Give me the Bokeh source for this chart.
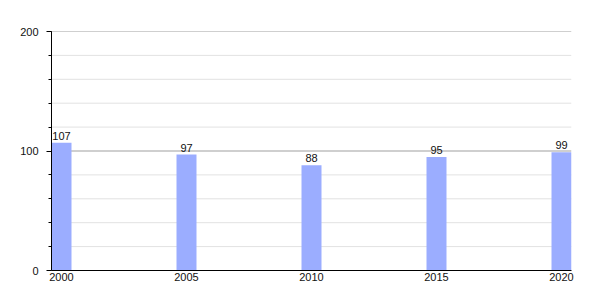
from bokeh.plotting import figure
from bokeh.models import FixedTicker, Range1d, ColumnDataSource, Span
from bokeh.embed import file_html
from bokeh.resources import INLINE
from bokeh.core.properties import value

years = [2000, 2005, 2010, 2015, 2020]
values = [107, 97, 88, 95, 99]
labels = [str(v) for v in values]
year_labels = [str(y) for y in years]
y_major = [0, 100, 200]
y_minor = [20, 40, 60, 80, 120, 140, 160, 180]

FONT = "Liberation Sans"

src = ColumnDataSource(dict(x=years, top=values, label=labels))

p = figure(width=600, height=300, output_backend="svg", toolbar_location=None,
           x_range=Range1d(1999.6, 2020.4), y_range=Range1d(0, 200),
           min_border_left=51, min_border_right=29, min_border_top=31, min_border_bottom=30)
p.outline_line_color = None
p.background_fill_color = "white"
p.border_fill_color = "white"

# grid lines
p.xgrid.grid_line_color = None
p.ygrid.grid_line_color = None
for v in y_minor:
    p.add_layout(Span(location=v, dimension="width", line_color="#e2e2e2", line_width=1, level="underlay"))
for v in y_major[1:]:
    p.add_layout(Span(location=v, dimension="width", line_color="#a0a0a0", line_width=1.2, level="underlay"))

p.vbar(x="x", top="top", width=0.8, bottom=0, source=src, fill_color="#9badff", line_color=None)

p.text(x="x", y="top", text="label", source=src, text_align="center", text_baseline="bottom",
       y_offset=-3, text_font=value(FONT), text_font_size="11px", text_color="#111111")

# y axis
p.yaxis.ticker = FixedTicker(ticks=y_major, minor_ticks=y_major + y_minor)
p.yaxis.major_tick_out = 5
p.yaxis.major_tick_in = 0
p.yaxis.minor_tick_out = 3
p.yaxis.minor_tick_in = 0
p.yaxis.axis_line_color = "black"
p.yaxis.major_tick_line_color = "black"
p.yaxis.minor_tick_line_color = "black"
p.yaxis.major_label_text_font = FONT
p.yaxis.major_label_text_font_size = "11px"
p.yaxis.major_label_text_color = "#111111"
p.yaxis.major_label_standoff = 8

# x axis
p.xaxis.ticker = FixedTicker(ticks=years, minor_ticks=[])
p.xaxis.major_label_overrides = {y: s for y, s in zip(years, year_labels)}
p.xaxis.major_tick_out = 0
p.xaxis.major_tick_in = 0
p.xaxis.minor_tick_line_color = None
p.xaxis.axis_line_color = "black"
p.xaxis.major_label_text_font = FONT
p.xaxis.major_label_text_font_size = "11px"
p.xaxis.major_label_text_color = "#111111"
p.xaxis.major_label_standoff = 2

open("out.html", "w").write(file_html(p, INLINE))
